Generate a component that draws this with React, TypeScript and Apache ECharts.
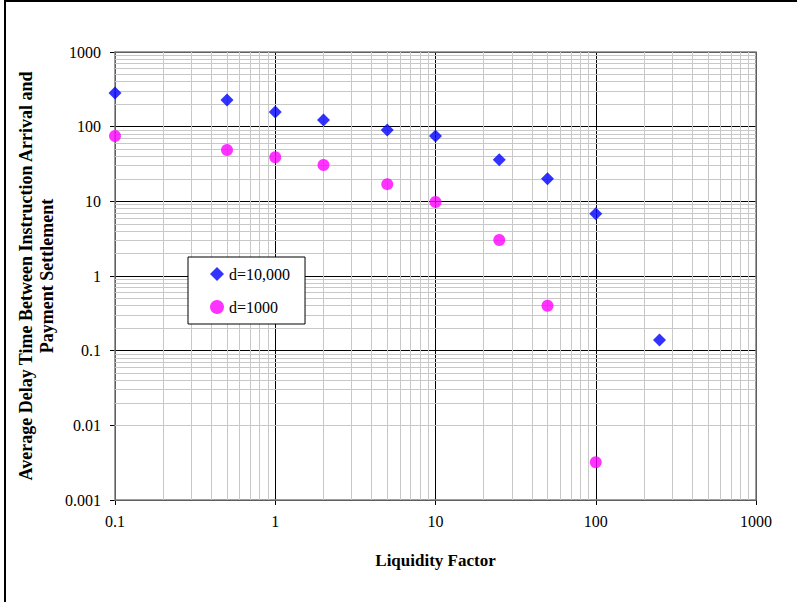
import React, { useEffect, useRef } from "react";
import * as echarts from "echarts";

const liquidity = [0.1, 0.5, 1, 2, 5, 10, 25, 50, 100, 250];
const delayD10000 = [282, 228, 157, 123, 90, 75, 36, 20, 6.8, 0.139];
const liquidityD1000 = [0.1, 0.5, 1, 2, 5, 10, 25, 50, 100];
const delayD1000 = [75, 48.7, 39, 30.7, 17, 9.8, 3.03, 0.4, 0.0032];
const xDecades = [0.1, 1, 10, 100];
const yDecades = [0.001, 0.01, 0.1, 1, 10, 100];
const minorSteps = [2, 3, 4, 5, 6, 7, 8, 9];

const FONT = "'Liberation Serif', 'Times New Roman', serif";

export default function App() {
  const ref = useRef<HTMLDivElement>(null);
  useEffect(() => {
    if (!ref.current) return;
    const chart = echarts.init(ref.current, null, { renderer: "svg" });
    const minorX: any[] = [];
    xDecades.forEach((d) => minorSteps.forEach((m) => minorX.push({ xAxis: +(d * m).toPrecision(6) })));
    const minorY: any[] = [];
    yDecades.forEach((d) => minorSteps.forEach((m) => minorY.push({ yAxis: +(d * m).toPrecision(6) })));

    chart.setOption({
      animation: false,
      backgroundColor: "#ffffff",
      textStyle: { fontFamily: FONT },
      grid: { left: 115, top: 52, width: 641, height: 448, containLabel: false, show: false },
      legend: {
        orient: "vertical",
        left: 188,
        top: 257,
        z: 50,
        zlevel: 0,
        backgroundColor: "#ffffff",
        borderColor: "#000000",
        borderWidth: 1,
        padding: [9, 15, 9, 22],
        itemGap: 17,
        itemWidth: 14,
        itemHeight: 14,
        textStyle: { fontFamily: FONT, fontSize: 16, color: "#000" },
        data: [
          { name: "d=10,000", icon: "diamond" },
          { name: "d=1000", icon: "circle" },
        ],
      },
      xAxis: {
        type: "log",
        logBase: 10,
        min: 0.1,
        max: 1000,
        name: "Liquidity Factor",
        nameLocation: "middle",
        nameGap: 52,
        nameTextStyle: { fontFamily: FONT, fontSize: 17, fontWeight: "bold", color: "#000" },
        axisLine: { show: true, lineStyle: { color: "#000", width: 1 } },
        axisTick: { show: true, length: 5, lineStyle: { color: "#000" } },
        axisLabel: {
          fontFamily: FONT,
          fontSize: 16,
          color: "#000",
          margin: 13,
          formatter: (v: number) => String(v),
        },
        splitLine: { show: true, lineStyle: { color: "#000", width: 1 } },
      },
      yAxis: {
        type: "log",
        logBase: 10,
        min: 0.001,
        max: 1000,
        axisLine: { show: true, lineStyle: { color: "#000", width: 1 } },
        axisTick: { show: true, length: 5, lineStyle: { color: "#000" } },
        axisLabel: {
          fontFamily: FONT,
          fontSize: 16,
          color: "#000",
          margin: 14,
          formatter: (v: number) => String(v),
        },
        splitLine: { show: true, lineStyle: { color: "#000", width: 1 } },
      },
      graphic: [
        {
          type: "rect",
          shape: { x: 5, y: 1, width: 820, height: 640 },
          style: { fill: "none", stroke: "#000", lineWidth: 2 },
          silent: true,
          z: 100,
        },
        {
          type: "rect",
          shape: { x: 115, y: 52, width: 641, height: 448 },
          style: { fill: "none", stroke: "#808080", lineWidth: 1.5 },
          silent: true,
          z: 1,
        },
        {
          type: "text",
          x: 36,
          y: 276,
          rotation: Math.PI / 2,
          style: {
            text: "Average Delay Time Between Instruction Arrival and\nPayment Settlement",
            fontFamily: FONT,
            fontSize: 18,
            fontWeight: "bold",
            fill: "#000",
            align: "center",
            verticalAlign: "middle",
            lineHeight: 21,
          },
        },
      ],
      series: [
        {
          name: "minor",
          type: "line",
          data: [],
          silent: true,
          z: 1,
          markLine: {
            silent: true,
            symbol: ["none", "none"],
            label: { show: false },
            lineStyle: { color: "#c8c8c8", width: 1, type: "solid" },
            emphasis: { disabled: true },
            data: [...minorX, ...minorY],
          },
        },
        {
          name: "d=10,000",
          type: "scatter",
          symbol: "diamond",
          symbolSize: 13,
          itemStyle: { color: "#0000ff" },
          z: 5,
          data: liquidity.map((x, i) => [x, delayD10000[i]]),
        },
        {
          name: "d=1000",
          type: "scatter",
          symbol: "circle",
          symbolSize: 12,
          itemStyle: { color: "#ff00ff" },
          z: 5,
          data: liquidityD1000.map((x, i) => [x, delayD1000[i]]),
        },
      ],
    });
    return () => chart.dispose();
  }, []);
  return (
    <div
      ref={ref}
      style={{ position: "absolute", left: 0, top: 0, width: 797, height: 602 }}
    />
  );
}
